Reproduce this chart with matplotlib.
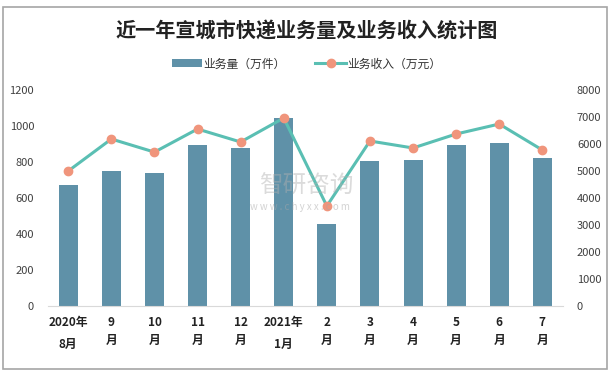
#!/usr/bin/env python3
"""Xuancheng express delivery volume and revenue, Aug 2020 - Jul 2021."""

import matplotlib
matplotlib.use("Agg")
import matplotlib.pyplot as plt
from matplotlib.patches import Rectangle

plt.rcParams["font.family"] = ["Noto Sans CJK SC", "DejaVu Sans"]

MONTHS = ["2020年\n8月", "9\n月", "10\n月", "11\n月", "12\n月", "2021年\n1月",
          "2\n月", "3\n月", "4\n月", "5\n月", "6\n月", "7\n月"]
VOLUME = [672, 750, 739, 894, 878, 1044, 456, 806, 811, 894, 906, 822]
REVENUE = [5000, 6185, 5700, 6555, 6074, 6963, 3703, 6111, 5852, 6370, 6740, 5778]

BAR_COLOR = "#5f91a8"
LINE_COLOR = "#5abfb3"
MARKER_COLOR = "#f0957c"
TEXT_COLOR = "#404040"


def main():
    fig = plt.figure(figsize=(6.13, 3.76), dpi=100)
    ax = fig.add_axes([48 / 613, 70 / 376, 515 / 613, 216 / 376])
    ax2 = ax.twinx()

    x = list(range(len(MONTHS)))
    bars = ax.bar(x, VOLUME, width=0.44, color=BAR_COLOR, label="业务量（万件）", zorder=2)
    line, = ax2.plot(x, REVENUE, color=LINE_COLOR, linewidth=2.2, marker="o",
                     markersize=6, markerfacecolor=MARKER_COLOR,
                     markeredgecolor=MARKER_COLOR, label="业务收入（万元）", zorder=3)

    ax.set_xlim(-0.47, 11.48)
    ax.set_ylim(0, 1200)
    ax.set_yticks(range(0, 1201, 200))
    ax2.set_ylim(0, 8000)
    ax2.set_yticks(range(0, 8001, 1000))

    for a in (ax, ax2):
        for side in ("top", "left", "right"):
            a.spines[side].set_visible(False)
        a.spines["bottom"].set_color("#d9d9d9")
        a.tick_params(axis="y", length=0, labelsize=8, labelcolor=TEXT_COLOR, pad=10)
    ax2.spines["bottom"].set_visible(False)

    ax.set_xticks(x)
    ax.set_xticklabels(MONTHS, fontsize=8.5, fontweight="bold", color="#222222",
                       linespacing=1.5)
    ax.tick_params(axis="x", length=0, pad=7)
    for lbl in ax.get_xticklabels():
        if "年" in lbl.get_text():
            lbl.set_linespacing(1.9)

    # watermark
    fig.text(0.5, 0.505, "智研咨询", fontsize=17, color="#b0b0b0", alpha=0.45,
             ha="center", va="center")
    fig.text(0.49, 0.45, "w w w . c h y x x . c o m", fontsize=7, color="#a8a8a8",
             alpha=0.5, ha="center", va="center")

    fig.text(0.5, 0.918, "近一年宣城市快递业务量及业务收入统计图", fontsize=14.5,
             fontweight="bold", color="#222222", ha="center", va="center")

    fig.legend([bars, line], ["业务量（万件）", "业务收入（万元）"],
               loc="center", bbox_to_anchor=(0.5, 0.83), ncol=2, frameon=False,
               fontsize=8.5, handlelength=2.6, handleheight=0.7, columnspacing=2.5,
               handletextpad=0.1, labelcolor="#333333")

    fig.patches.append(Rectangle((3 / 613, 7 / 376), 604 / 613, 362 / 376,
                                 transform=fig.transFigure, fill=False,
                                 edgecolor="#a6a6a6", linewidth=1.2))

    fig.savefig("out.png", dpi=100)


if __name__ == "__main__":
    main()
